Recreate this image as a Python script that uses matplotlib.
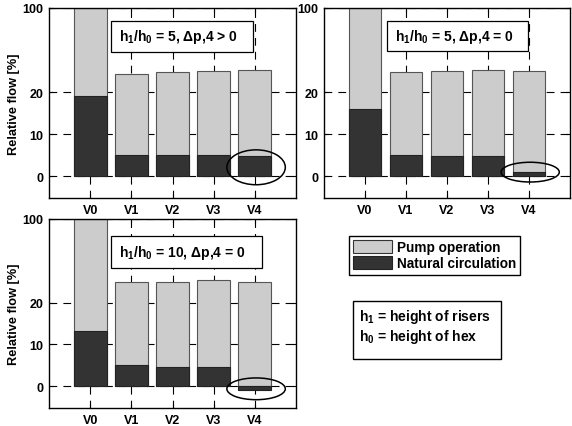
import numpy as np
import matplotlib
matplotlib.use('Agg')
import matplotlib.pyplot as plt
from matplotlib.patches import Ellipse, Rectangle, Patch

plt.rcParams['font.family'] = ['Liberation Sans', 'DejaVu Sans']
plt.rcParams['font.weight'] = 'bold'
plt.rcParams['font.size'] = 9
plt.rcParams['mathtext.default'] = 'regular'

categories = ['V0', 'V1', 'V2', 'V3', 'V4']
pump_a = [100, 37.6, 38.9, 39.8, 40.7]   # h1/h0 = 5, dp4 > 0
nat_a = [19.0, 5.0, 5.0, 5.0, 4.7]
pump_b = [100, 39.2, 40.2, 41.1, 40.2]   # h1/h0 = 5, dp4 = 0
nat_b = [15.9, 5.1, 4.8, 4.9, 0.9]
pump_c = [100, 39.5, 40.0, 41.4, 40.0]   # h1/h0 = 10, dp4 = 0
nat_c = [13.3, 5.0, 4.7, 4.7, -0.95]

yticks = [0, 10, 20, 100]
light = '#cccccc'
dark = '#333333'


# y axis: linear up to 20, compressed 4x above 20
def fwd(y):
    y = np.asarray(y, dtype=float)
    return np.where(y <= 20, y, 20 + (y - 20) / 4.0)


def inv(y):
    y = np.asarray(y, dtype=float)
    return np.where(y <= 20, y, 20 + (y - 20) * 4.0)


fig = plt.figure(figsize=(5.72, 4.27), dpi=100)

panels = [
    ([0.0857, 0.534, 0.4318, 0.445], pump_a, nat_a,
     'h$_1$/h$_0$ = 5, Δp,4 > 0', (0.251, 0.768, 0.575, 0.164), (2.1, 8.3), True),
    ([0.5664, 0.534, 0.430, 0.445], pump_b, nat_b,
     'h$_1$/h$_0$ = 5, Δp,4 = 0', (0.255, 0.772, 0.573, 0.161), (0.95, 4.7), False),
    ([0.0857, 0.042, 0.4318, 0.443], pump_c, nat_c,
     'h$_1$/h$_0$ = 10, Δp,4 = 0', (0.251, 0.741, 0.61, 0.169), (-0.6, 5.2), True),
]

x = np.arange(len(categories))
for pos, pump, nat, label, box, ell, show_ylabel in panels:
    ax = fig.add_axes(pos)
    ax.set_yscale('function', functions=(fwd, inv))
    ax.bar(x, pump, width=0.8, color=light, edgecolor='#555555', linewidth=0.8, zorder=2)
    ax.bar(x, nat, width=0.8, color=dark, edgecolor='#222222', linewidth=0.8, zorder=3)
    ax.set_xlim(-1, 5)
    ax.set_ylim(-5.2, 100)
    ax.set_xticks(x)
    ax.set_xticklabels(categories, fontweight='bold', fontsize=9)
    ax.set_yticks(yticks)
    ax.set_yticklabels([str(v) for v in yticks], fontweight='bold', fontsize=9)
    ax.minorticks_off()
    ax.tick_params(direction='in', length=3, width=0.8, top=True, right=True, pad=4)
    ax.grid(True, color='black', linestyle=(0, (7, 5.5)), linewidth=0.8, zorder=1)
    ax.set_axisbelow(True)
    for sp in ax.spines.values():
        sp.set_linewidth(1.0)
    if show_ylabel:
        ax.set_ylabel('Relative flow [%]', fontweight='bold', fontsize=9.2, labelpad=2)

    # text box with the case description
    ax.add_patch(Rectangle((box[0], box[1]), box[2], box[3], transform=ax.transAxes,
                           facecolor='white', edgecolor='black', linewidth=0.9, zorder=4))
    ax.text(box[0] + 0.033, box[1] + box[3] / 2, label, transform=ax.transAxes,
            ha='left', va='center', fontsize=10, fontweight='bold', zorder=5)

    # ellipse marking V4
    ax.add_patch(Ellipse((4.03, ell[0]), 1.42, ell[1], facecolor='none',
                         edgecolor='black', linewidth=1.1, zorder=6, clip_on=False))

handles = [Patch(facecolor=light, edgecolor='#333333', linewidth=0.8),
           Patch(facecolor=dark, edgecolor='#222222', linewidth=0.8)]
leg = fig.legend(handles, ['Pump operation', 'Natural circulation'],
                 loc='upper left', bbox_to_anchor=(0.610, 0.445), borderaxespad=0,
                 handlelength=2.9, handleheight=1.1, handletextpad=0.3,
                 labelspacing=0.15, borderpad=0.3, fancybox=False, framealpha=1,
                 edgecolor='black', prop={'weight': 'bold', 'size': 9.8})
leg.get_frame().set_linewidth(1.0)

fig.add_artist(Rectangle((0.617, 0.157), 0.259, 0.136, transform=fig.transFigure,
                         facecolor='white', edgecolor='black', linewidth=1.0))
fig.text(0.627, 0.258, 'h$_1$ = height of risers', ha='left', va='center',
         fontsize=10, fontweight='bold')
fig.text(0.627, 0.210, 'h$_0$ = height of hex', ha='left', va='center',
         fontsize=10, fontweight='bold')

fig.savefig('out.png', dpi=100)
